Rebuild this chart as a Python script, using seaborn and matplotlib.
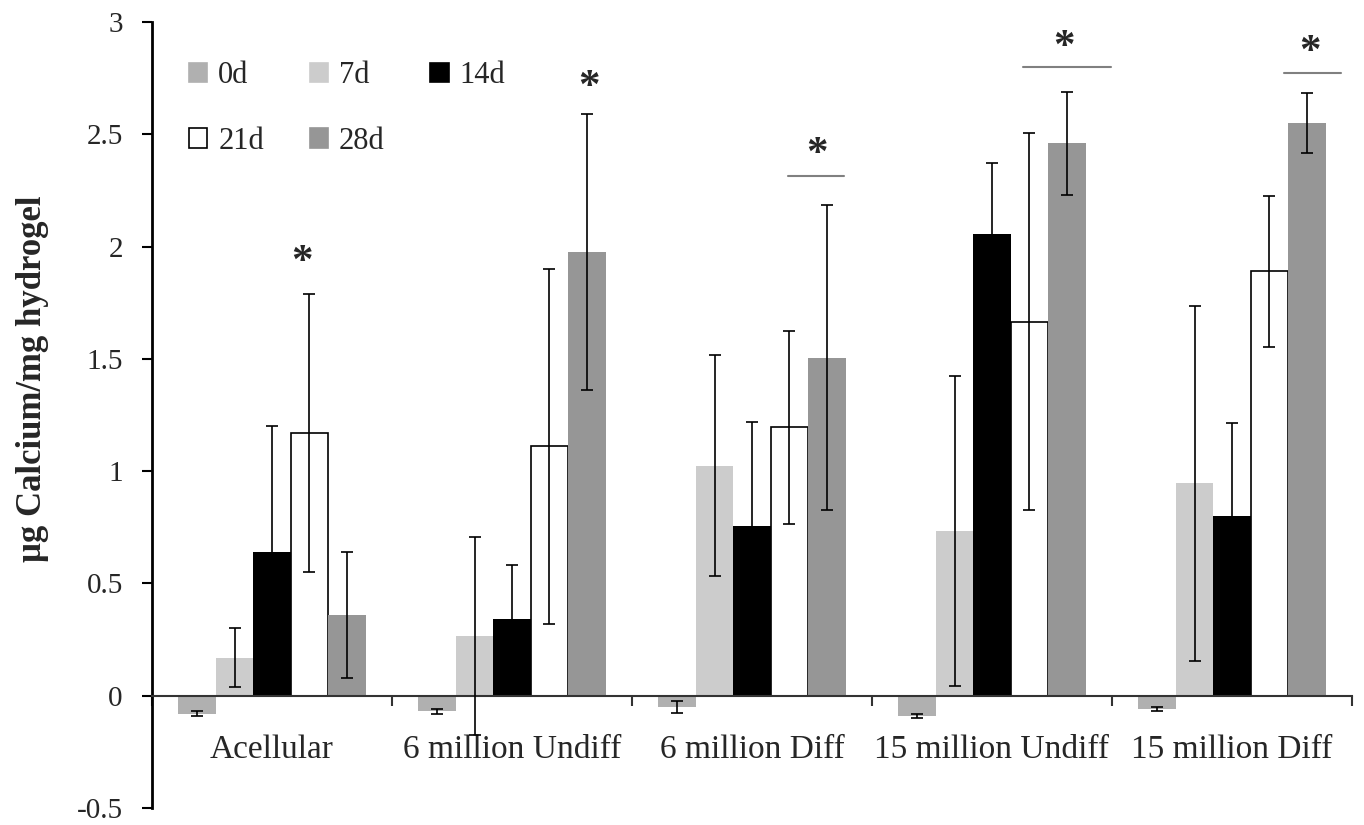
import numpy as np
import pandas as pd
import matplotlib
matplotlib.use("Agg")
import matplotlib.pyplot as plt
import seaborn as sns
from matplotlib.patches import Patch
from matplotlib.ticker import FuncFormatter, FixedLocator

# ---- data ----
groups = ["Acellular", "6 million Undiff", "6 million Diff", "15 million Undiff", "15 million Diff"]
days = ["0d", "7d", "14d", "21d", "28d"]
mean_0d = [-0.08, -0.07, -0.05, -0.09, -0.06]
mean_7d = [0.17, 0.265, 1.025, 0.735, 0.945]
mean_14d = [0.64, 0.34, 0.755, 2.055, 0.80]
mean_21d = [1.17, 1.11, 1.195, 1.665, 1.89]
mean_28d = [0.36, 1.975, 1.505, 2.46, 2.55]
err_0d = [0.01, 0.01, 0.025, 0.01, 0.01]
err_7d = [0.13, 0.44, 0.49, 0.69, 0.79]
err_14d = [0.56, 0.24, 0.465, 0.315, 0.415]
err_21d = [0.62, 0.79, 0.43, 0.84, 0.335]
err_28d = [0.28, 0.615, 0.68, 0.23, 0.135]

# significance marks: (x position in category units, y value)
star_x = [0.125, 1.32, 2.27, 3.30, 4.325]
star_y = [1.925, 2.705, 2.407, 2.885, 2.861]
line_x0 = [2.15, 3.13, 4.217]
line_x1 = [2.383, 3.496, 4.454]
line_y = [2.314, 2.80, 2.773]

colors = ["#b0b0b0", "#cccccc", "#000000", "#ffffff", "#969696"]

means = [mean_0d, mean_7d, mean_14d, mean_21d, mean_28d]
errs = [err_0d, err_7d, err_14d, err_21d, err_28d]
rows = []
for d, m, e in zip(days, means, errs):
    for g, v, s in zip(groups, m, e):
        rows.append({"group": g, "day": d, "value": v, "err": s})
df = pd.DataFrame(rows)

sns.set_style("white")
plt.rcParams["font.family"] = ["Liberation Serif", "DejaVu Serif"]
plt.rcParams["axes.unicode_minus"] = False

fig = plt.figure(figsize=(13.64, 8.25), dpi=100)
ax = fig.add_axes([152 / 1364, 1 - 808 / 825, 1200 / 1364, 786 / 825])

sns.barplot(data=df, x="group", y="value", hue="day", order=groups, hue_order=days,
            palette=colors, width=0.78, errorbar=None, saturation=1, ax=ax,
            linewidth=0, legend=False)

# 21d bars: white with black outline
for p in ax.containers[3]:
    p.set_edgecolor("black")
    p.set_linewidth(1.2)

# error bars
for cont, d in zip(ax.containers, days):
    sub = df[df["day"] == d].set_index("group").loc[groups]
    xs = [p.get_x() + p.get_width() / 2 for p in cont]
    ax.errorbar(xs, sub["value"].values, yerr=sub["err"].values, fmt="none",
                ecolor="black", elinewidth=1.2, capsize=4, capthick=1.2, zorder=5)

ax.set_xlim(-0.5, 4.5)
ax.set_ylim(-0.5, 3)

# spines
for s in ["top", "right"]:
    ax.spines[s].set_visible(False)
ax.spines["left"].set_linewidth(2)
ax.spines["left"].set_color("black")
ax.spines["bottom"].set_position(("data", 0))
ax.spines["bottom"].set_color("#333333")
ax.spines["bottom"].set_linewidth(1.5)

ax.set_yticks(np.arange(-0.5, 3.01, 0.5))
ax.yaxis.set_major_formatter(FuncFormatter(lambda v, p: "%g" % v))
ax.tick_params(axis="y", direction="out", length=7, width=1.5, labelsize=21, pad=14, left=True, color="black")

ax.xaxis.set_major_locator(FixedLocator([-0.5, 0.5, 1.5, 2.5, 3.5, 4.5]))
ax.set_xticklabels([])
ax.tick_params(axis="x", which="major", direction="out", length=7, width=1.5, bottom=True, color="#333333")
ax.xaxis.set_minor_locator(FixedLocator(range(len(groups))))
ax.set_xticklabels(groups, minor=True)
ax.tick_params(axis="x", which="minor", length=0, labelsize=24, pad=28)
ax.set_xlabel("")

ax.set_ylabel("μg Calcium/mg hydrogel", fontsize=25, fontweight="bold", labelpad=12)
ax.yaxis.set_label_coords(-0.086, 0.546)

# significance
for x0, x1, y in zip(line_x0, line_x1, line_y):
    ax.plot([x0, x1], [y, y], color="#808080", lw=1.5)
for x, y in zip(star_x, star_y):
    ax.text(x, y, "*", fontsize=31, ha="center", va="center", fontweight="bold")

# legend (row-major order)
handles = [Patch(facecolor=c, edgecolor=("black" if c == "#ffffff" else c), linewidth=1.2, label=d)
           for c, d in zip(colors, days)]
order = [0, 3, 1, 4, 2]
ax.legend([handles[i] for i in order], [days[i] for i in order], ncol=3, frameon=False,
          loc="upper left", bbox_to_anchor=(0.008, 0.985), fontsize=22,
          handlelength=0.6, handleheight=0.6, handletextpad=0.35,
          columnspacing=1.5, labelspacing=1.2)

fig.savefig("out.png", dpi=100)
